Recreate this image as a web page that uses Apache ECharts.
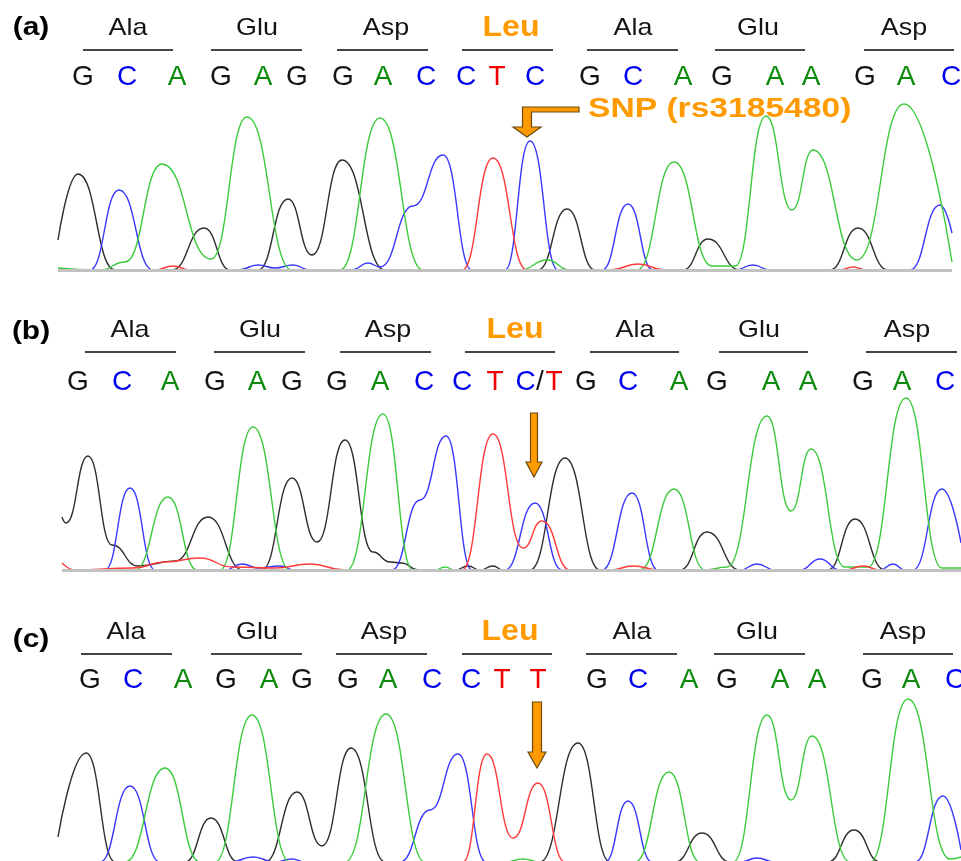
<!DOCTYPE html>
<html><head><meta charset="utf-8">
<script src="https://cdn.jsdelivr.net/npm/echarts@6/dist/echarts.min.js"></script>
<style>html,body{margin:0;padding:0;background:#fff}#c{width:961px;height:861px}</style>
</head><body><div id="c"></div>
<script>
// ---------- DATA (x = scan position, y = signal intensity) ----------
const panelLabels = ['(a)', '(b)', '(c)'];
const aminoAcids = ['Ala', 'Glu', 'Asp', 'Leu', 'Ala', 'Glu', 'Asp'];

const basesA = ['G','C','A','G','A','G','G','A','C','C','T','C','G','C','A','G','A','A','G','A','C'];
const basesB = ['G','C','A','G','A','G','G','A','C','C','T','C/T','G','C','A','G','A','A','G','A','C'];
const basesC = ['G','C','A','G','A','G','G','A','C','C','T','T','G','C','A','G','A','A','G','A','C'];

const basePosA = [83,127,177,221,263,297,343,383,426,466,497,535,590,633,683,722,775,811,865,906,951];
const basePosB = [78,122,170,215,257,292,337,380,424,462,495,538,586,628,679,717,771,808,863,902,945];
const basePosC = [90,133,183,226,269,302,348,388,432,471,502,538,597,638,689,727,780,817,872,911,955];

const aminoPosA = [128,257,386,511,633,758,904];
const aminoPosB = [130,260,388,515,635,759,907];
const aminoPosC = [126,257,384,510,632,757,903];

const codonA = [[83,173],[211,302],[337,428],[462,553],[587,678],[715,805],[864,954]];
const codonB = [[85,176],[214,305],[340,431],[465,555],[590,679],[719,808],[866,957]];
const codonC = [[81,172],[211,302],[336,427],[462,552],[586,677],[714,805],[863,953]];

const snpLabel = 'SNP (rs3185480)';
const snpArrowTip = [[527,133],[534,93],[537,94]];
const snpLabelAnchor = [588,161];

// trace apex / valley / foot points
const blackA = [[58,30],[78,96],[115,0],[172,0],[204,42],[230,0],[258,0],[288,71],[312,15],[342,110],[385,0],[538,0],[567,61],[595,0],[683,0],[708,31],[740,0],[830,0],[858,42],[888,0],[952,0]];
const blueA  = [[58,0],[90,0],[119,80],[153,0],[238,0],[258,5],[275,2],[293,5],[310,0],[352,0],[368,7],[380,3],[413,64],[443,115],[472,0],[505,0],[530,129],[558,0],[602,0],[628,66],[653,0],[735,0],[753,5],[770,0],[910,0],[940,65],[952,37]];
const greenA = [[58,2],[100,0],[125,8],[162,106],[211,11],[247,153],[292,0],[340,0],[380,152],[423,0],[520,0],[547,10],[570,0],[637,0],[674,108],[712,4],[735,4],[766,154],[792,60],[813,120],[857,10],[904,166],[952,8]];
const redA   = [[58,0],[155,0],[173,4],[190,0],[462,0],[493,112],[527,0],[610,0],[638,6],[665,0],[840,0],[853,3],[866,0],[952,0]];

const blackB = [[62,53],[66,47],[88,114],[112,25],[138,4],[175,9],[208,53],[243,0],[262,0],[292,92],[317,28],[345,130],[373,18],[390,8],[402,7],[418,0],[455,0],[468,4],[480,0],[493,4],[503,0],[530,0],[565,112],[600,0],[680,0],[707,38],[740,0],[828,0],[855,51],[885,0],[961,0]];
const blueB  = [[62,0],[105,0],[130,82],[155,0],[225,0],[242,6],[258,2],[280,4],[295,0],[392,0],[420,70],[446,134],[472,0],[505,0],[535,67],[562,0],[602,0],[632,77],[658,0],[740,0],[757,6],[775,0],[800,0],[820,11],[840,0],[880,0],[893,6],[905,0],[913,0],[942,81],[961,27]];
const greenB = [[62,0],[135,0],[168,73],[197,0],[220,0],[253,143],[290,0],[347,0],[383,156],[413,0],[435,0],[445,3],[455,0],[640,0],[674,81],[705,0],[727,3],[767,154],[791,59],[811,121],[845,3],[868,3],[906,172],[942,2],[961,2]];
const redB   = [[62,7],[75,0],[133,2],[165,8],[200,12],[232,3],[275,2],[310,6],[345,0],[462,0],[493,136],[523,22],[542,49],[570,0],[610,0],[633,4],[660,0],[845,0],[863,4],[880,0],[961,0]];

const blackC = [[58,25],[86,109],[115,0],[185,0],[211,44],[238,0],[265,0],[297,70],[322,16],[351,114],[385,0],[540,0],[578,119],[610,0],[675,0],[702,29],[730,0],[828,0],[854,32],[880,0],[961,0]];
const blueC  = [[58,0],[100,0],[130,76],[160,0],[230,0],[253,5],[275,0],[292,3],[305,0],[400,0],[430,52],[458,108],[486,0],[605,0],[628,61],[652,0],[740,0],[757,4],[775,0],[915,0],[943,66],[961,12]];
const greenC = [[58,0],[125,0],[165,94],[200,0],[215,0],[252,147],[290,0],[345,0],[386,148],[425,0],[505,0],[523,3],[540,0],[635,0],[669,90],[700,0],[733,0],[767,147],[791,62],[812,126],[850,0],[870,0],[908,163],[950,3],[961,5]];
const redC   = [[58,0],[463,0],[487,108],[513,24],[538,79],[565,0],[961,0]];

const baselineSpan = [[58,952],[62,961],null];

// ---------- LAYOUT / STYLE ----------
const FONT = '"Liberation Sans", Arial, Helvetica, sans-serif';
const traceColors = {black:'#2e2e2e', blue:'#3838ff', green:'#3ccb3c', red:'#ff3a3a'};
const letterColors = {G:'#141414', C:'#0000f0', A:'#0b8a0b', T:'#f00000', '/':'#141414'};
const ORANGE = '#ff9a00';
const PAGE_H = 861;
const layout = [
  {baseline:270, amino:242, rule:220, letters:193, label:242},
  {baseline:570, amino:240, rule:218, letters:188, label:238},
  {baseline:862, amino:230, rule:208, letters:182, label:222}
];
const panels = [
  {bases:basesA, basePos:basePosA, aminoPos:aminoPosA, codons:codonA, traces:[['black',blackA],['blue',blueA],['green',greenA],['red',redA]]},
  {bases:basesB, basePos:basePosB, aminoPos:aminoPosB, codons:codonB, traces:[['black',blackB],['blue',blueB],['green',greenB],['red',redB]]},
  {bases:basesC, basePos:basePosC, aminoPos:aminoPosC, codons:codonC, traces:[['black',blackC],['blue',blueC],['green',greenC],['red',redC]]}
];

function textEl(x, y, text, fill, font, align, scaleX) {
  return {type:'text', x:x, y:y, scaleX:scaleX||1, scaleY:1,
    style:{text:text, fill:fill, font:font, align:align||'center', verticalAlign:'middle',
           textAlign:align||'center', textVerticalAlign:'middle'}};
}

const grids = [], xAxes = [], yAxes = [], series = [];
panels.forEach((P, p) => {
  const L = layout[p];
  const top = L.baseline - 270;
  const h = Math.min(280, PAGE_H - top);
  grids.push({left:0, right:0, top:top, height:h});
  xAxes.push({type:'value', gridIndex:p, min:0, max:961, show:false});
  yAxes.push({type:'value', gridIndex:p, min:270 - h, max:270, show:false});

  P.traces.forEach(([c, d]) => {
    series.push({type:'line', xAxisIndex:p, yAxisIndex:p, silent:true, symbol:'none', showSymbol:false,
      smooth:0.5, smoothMonotone:'x', z:2, data:d, clip:false,
      lineStyle:{color:traceColors[c], width:1.4}});
  });
  if (baselineSpan[p]) {
    series.push({type:'line', xAxisIndex:p, yAxisIndex:p, silent:true, symbol:'none', z:3,
      data:[[baselineSpan[p][0],-0.6],[baselineSpan[p][1],-0.6]],
      lineStyle:{color:'#c2c2c2', width:3}});
  }

  // base calls
  series.push({type:'custom', xAxisIndex:p, yAxisIndex:p, silent:true, z:5,
    data:P.basePos.map((x, i) => [x, i]),
    renderItem:(params, api) => {
      const i = api.value(1), b = P.bases[i];
      const pt = api.coord([api.value(0), L.letters]);
      const f = '28px ' + FONT;
      if (b.length === 1) return textEl(pt[0], pt[1], b, letterColors[b], f);
      const parts = b.split('/');
      return {type:'group', children:[
        textEl(pt[0]-12.5, pt[1], parts[0], letterColors[parts[0]], f),
        textEl(pt[0]+2, pt[1], '/', letterColors['/'], f),
        textEl(pt[0]+16, pt[1], parts[1], letterColors[parts[1]], f)]};
    }});

  // amino acids + codon rules
  series.push({type:'custom', xAxisIndex:p, yAxisIndex:p, silent:true, z:5,
    data:P.aminoPos.map((x, i) => [x, i]),
    renderItem:(params, api) => {
      const i = api.value(1), name = aminoAcids[i];
      const pt = api.coord([api.value(0), L.amino]);
      const a = api.coord([P.codons[i][0], L.rule]), b = api.coord([P.codons[i][1], L.rule]);
      const isSnp = name === 'Leu';
      return {type:'group', children:[
        {type:'line', shape:{x1:a[0], y1:a[1], x2:b[0], y2:b[1]}, style:{stroke:'#454545', lineWidth:2}},
        isSnp ? textEl(pt[0], pt[1], name, ORANGE, 'bold 30px ' + FONT, 'center', 1.07)
              : textEl(pt[0], pt[1], name, '#141414', '24px ' + FONT, 'center', 1.12)
      ]};
    }});

  // panel label
  series.push({type:'custom', xAxisIndex:p, yAxisIndex:p, silent:true, z:5,
    data:[[31, L.label]],
    renderItem:(params, api) => {
      const pt = api.coord([api.value(0), api.value(1)]);
      return textEl(pt[0], pt[1], panelLabels[p], '#000', 'bold 26px ' + FONT, 'center', 1.15);
    }});

  // SNP arrow
  series.push({type:'custom', xAxisIndex:p, yAxisIndex:p, silent:true, z:6,
    data:[snpArrowTip[p]],
    renderItem:(params, api) => {
      const t = api.coord([api.value(0), api.value(1)]);
      let pts;
      if (p === 0) {
        pts = [[52,-30],[-4.5,-30],[-4.5,-10],[-14,-10],[0,0],[14,-10],[4.5,-10],[4.5,-25],[52,-25]];
      } else if (p === 1) {
        pts = [[-3.5,-64],[3.5,-64],[3.5,-15],[8,-15],[0,0],[-8,-15],[-3.5,-15]];
      } else {
        pts = [[-4.5,-66],[4.5,-66],[4.5,-16],[9,-16],[0,0],[-9,-16],[-4.5,-16]];
      }
      const children = [{type:'polygon', shape:{points:pts.map(q => [t[0]+q[0], t[1]+q[1]])},
        style:{fill:ORANGE, stroke:'#6a4a10', lineWidth:1.2}}];
      if (p === 0) {
        const s = api.coord(snpLabelAnchor);
        children.push(textEl(s[0], s[1], snpLabel, ORANGE, 'bold 28px ' + FONT, 'left', 1.2));
      }
      return {type:'group', children:children};
    }});
});

const chart = echarts.init(document.getElementById('c'), null, {renderer:'canvas'});
chart.setOption({animation:false, backgroundColor:'#fff', grid:grids, xAxis:xAxes, yAxis:yAxes, series:series});
</script></body></html>
